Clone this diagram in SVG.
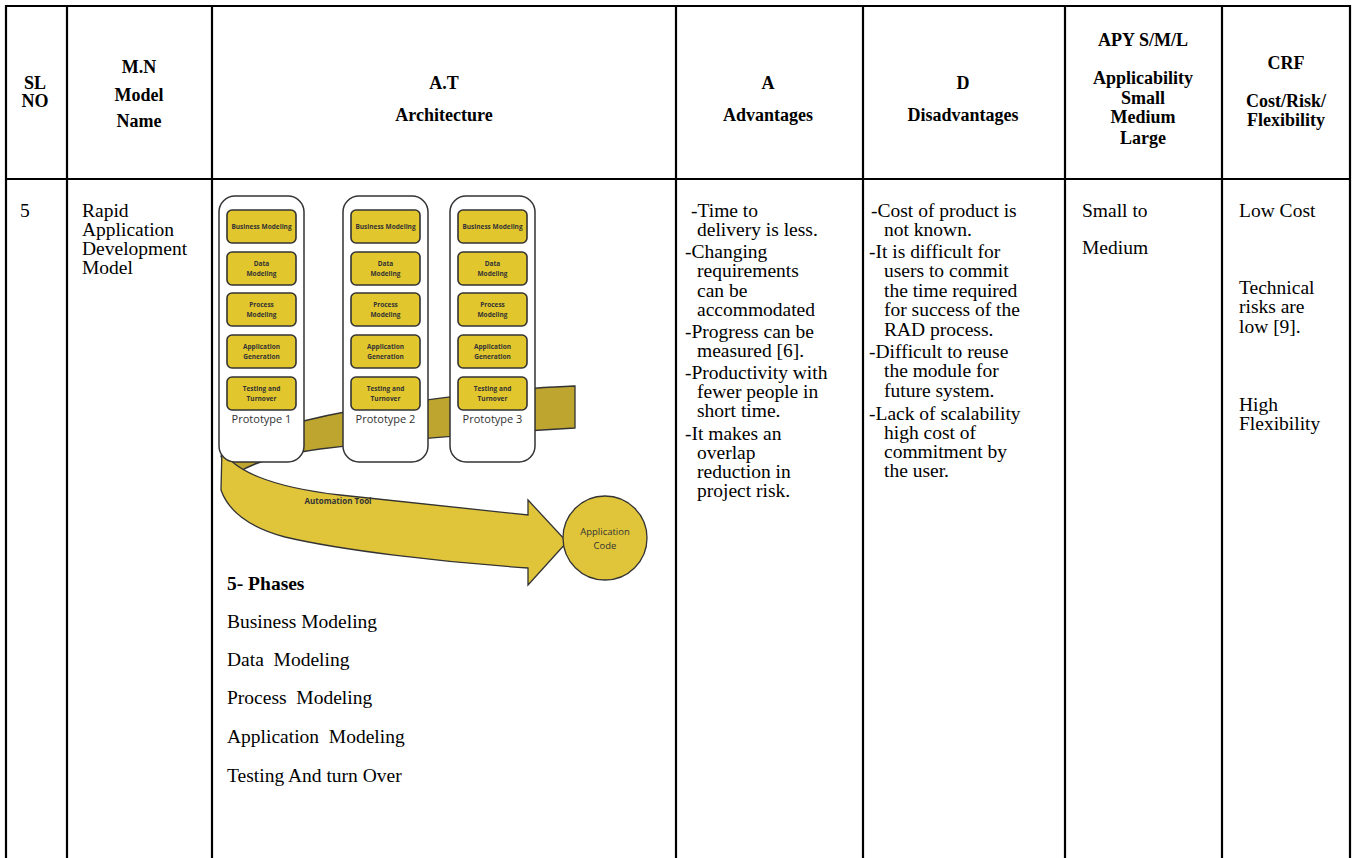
<svg xmlns="http://www.w3.org/2000/svg" width="1357" height="858" viewBox="0 0 1357 858">
<style>
.grid{stroke:#000;stroke-width:2.2;fill:none}
.h{font-family:"Liberation Serif",serif;font-weight:bold;font-size:18px;text-anchor:middle;fill:#000}
.b{font-family:"Liberation Serif",serif;font-size:19.5px;fill:#000;white-space:pre}
.bb{font-family:"Liberation Serif",serif;font-size:19.5px;font-weight:bold;fill:#000}
.proto{fill:#fff;stroke:#333;stroke-width:1.5}
.ybox{fill:#E2C62E;stroke:#333;stroke-width:1.6}
.yt{font-family:"Open Sans",sans-serif;font-weight:bold;font-size:6.5px;fill:#333;text-anchor:middle}
.pl{font-family:"Open Sans",sans-serif;font-size:11px;fill:#333;text-anchor:middle}
.st{font-family:"Open Sans",sans-serif;font-size:9.5px;fill:#333;text-anchor:middle}
.band{fill:#E0C53A;stroke:#333;stroke-width:1.3}
.back{fill:#BDA52F;stroke:#333;stroke-width:1.3}
</style>
<defs>
<g id="proto">
<rect class="proto" x="0" y="0" width="85" height="266" rx="16"/>
<rect class="ybox" x="8" y="14" width="69" height="33" rx="5"/>
<rect class="ybox" x="8" y="56" width="69" height="33" rx="5"/>
<rect class="ybox" x="8" y="97" width="69" height="33" rx="5"/>
<rect class="ybox" x="8" y="139" width="69" height="33" rx="5"/>
<rect class="ybox" x="8" y="181" width="69" height="33" rx="5"/>
<text class="yt" x="42.5" y="33">Business Modeling</text>
<text class="yt" x="42.5" y="70">Data</text>
<text class="yt" x="42.5" y="80">Modeling</text>
<text class="yt" x="42.5" y="111">Process</text>
<text class="yt" x="42.5" y="121">Modeling</text>
<text class="yt" x="42.5" y="153">Application</text>
<text class="yt" x="42.5" y="163">Generation</text>
<text class="yt" x="42.5" y="195">Testing and</text>
<text class="yt" x="42.5" y="205">Turnover</text>
</g>
</defs>
<rect width="1357" height="858" fill="#fff"/>
<g id="table-grid">
<line class="grid" x1="5" y1="6" x2="1351" y2="6"/>
<line class="grid" x1="5" y1="179" x2="1351" y2="179"/>
<line class="grid" x1="6" y1="5" x2="6" y2="858"/>
<line class="grid" x1="67" y1="5" x2="67" y2="858"/>
<line class="grid" x1="212" y1="5" x2="212" y2="858"/>
<line class="grid" x1="676" y1="5" x2="676" y2="858"/>
<line class="grid" x1="863" y1="5" x2="863" y2="858"/>
<line class="grid" x1="1065" y1="5" x2="1065" y2="858"/>
<line class="grid" x1="1222" y1="5" x2="1222" y2="858"/>
<line class="grid" x1="1350" y1="5" x2="1350" y2="858"/>
</g>
<g id="hdr-sl"><text class="h" x="35" y="89">SL</text><text class="h" x="35" y="107">NO</text></g>
<g id="hdr-mn"><text class="h" x="139" y="73">M.N</text><text class="h" x="139" y="101">Model</text><text class="h" x="139" y="127">Name</text></g>
<g id="hdr-at"><text class="h" x="444" y="89">A.T</text><text class="h" x="444" y="121">Architecture</text></g>
<g id="hdr-a"><text class="h" x="768" y="89">A</text><text class="h" x="768" y="121">Advantages</text></g>
<g id="hdr-d"><text class="h" x="963" y="89">D</text><text class="h" x="963" y="121">Disadvantages</text></g>
<g id="hdr-apy"><text class="h" x="1143" y="46">APY S/M/L</text><text class="h" x="1143" y="84">Applicability</text><text class="h" x="1143" y="104">Small</text><text class="h" x="1143" y="123">Medium</text><text class="h" x="1143" y="144">Large</text></g>
<g id="hdr-crf"><text class="h" x="1286" y="69">CRF</text><text class="h" x="1286" y="107">Cost/Risk/</text><text class="h" x="1286" y="126">Flexibility</text></g>
<g id="cell-sl"><text class="b" x="20" y="217">5</text></g>
<g id="cell-mn"><text class="b" x="82" y="217">Rapid</text><text class="b" x="82" y="236">Application</text><text class="b" x="82" y="255">Development</text><text class="b" x="82" y="274">Model</text></g>
<g id="arch-back">
<path class="back" d="M575,386 L575,428 C490,433 385,441 320,449 C270,456 240,466 228,482 L221,456 C240,438 290,422 350,411 C440,397 515,388 575,386 Z"/>
</g>
<g id="connectors">
<path class="band" d="M222,448 C231,470 270,487 340,495 C420,503 480,510 528,515 L528,500 L567,542 L528,585 L528,568 C440,562 340,550 285,537 C248,527 228,510 221,490 Z"/>
<text x="338" y="504" font-family="Open Sans, sans-serif" font-weight="bold" font-size="8" fill="#333" text-anchor="middle">Automation Tool</text>
</g>
<g id="proto1"><use href="#proto" x="219" y="196"/><text class="pl" x="261.5" y="423">Prototype 1</text></g>
<g id="proto2"><use href="#proto" x="343" y="196"/><text class="pl" x="385.5" y="423">Prototype 2</text></g>
<g id="proto3"><use href="#proto" x="450" y="196"/><text class="pl" x="492.5" y="423">Prototype 3</text></g>
<g id="app-code"><circle cx="605" cy="538" r="42" fill="#E0C53A" stroke="#333" stroke-width="1.3"/><text class="st" x="605" y="535">Application</text><text class="st" x="605" y="549">Code</text></g>
<g id="phases">
<text class="bb" x="227" y="590">5- Phases</text>
<text class="b" x="227" y="628">Business Modeling</text>
<text class="b" x="227" y="666">Data  Modeling</text>
<text class="b" x="227" y="704">Process  Modeling</text>
<text class="b" x="227" y="743">Application  Modeling</text>
<text class="b" x="227" y="782">Testing And turn Over</text>
</g>
<g id="cell-adv">
<text class="b" x="691" y="217">-Time to</text>
<text class="b" x="697" y="236">delivery is less.</text>
<text class="b" x="685" y="258">-Changing</text>
<text class="b" x="697" y="277">requirements</text>
<text class="b" x="697" y="297">can be</text>
<text class="b" x="697" y="316">accommodated</text>
<text class="b" x="685" y="338">-Progress can be</text>
<text class="b" x="697" y="357">measured [6].</text>
<text class="b" x="685" y="379">-Productivity with</text>
<text class="b" x="697" y="398">fewer people in</text>
<text class="b" x="697" y="417">short time.</text>
<text class="b" x="685" y="440">-It makes an</text>
<text class="b" x="697" y="459">overlap</text>
<text class="b" x="697" y="478">reduction in</text>
<text class="b" x="697" y="497">project risk.</text>
</g>
<g id="cell-dis">
<text class="b" x="871" y="217">-Cost of product is</text>
<text class="b" x="884" y="236">not known.</text>
<text class="b" x="869" y="258">-It is difficult for</text>
<text class="b" x="884" y="277">users to commit</text>
<text class="b" x="884" y="297">the time required</text>
<text class="b" x="884" y="316">for success of the</text>
<text class="b" x="884" y="336">RAD process.</text>
<text class="b" x="869" y="358">-Difficult to reuse</text>
<text class="b" x="884" y="377">the module for</text>
<text class="b" x="884" y="397">future system.</text>
<text class="b" x="869" y="420">-Lack of scalability</text>
<text class="b" x="884" y="439">high cost of</text>
<text class="b" x="884" y="458">commitment by</text>
<text class="b" x="884" y="477">the user.</text>
</g>
<g id="cell-apy"><text class="b" x="1082" y="217">Small to</text><text class="b" x="1082" y="254">Medium</text></g>
<g id="cell-crf">
<text class="b" x="1239" y="217">Low Cost</text>
<text class="b" x="1239" y="294">Technical</text>
<text class="b" x="1239" y="313">risks are</text>
<text class="b" x="1239" y="333">low [9].</text>
<text class="b" x="1239" y="411">High</text>
<text class="b" x="1239" y="430">Flexibility</text>
</g>
</svg>
